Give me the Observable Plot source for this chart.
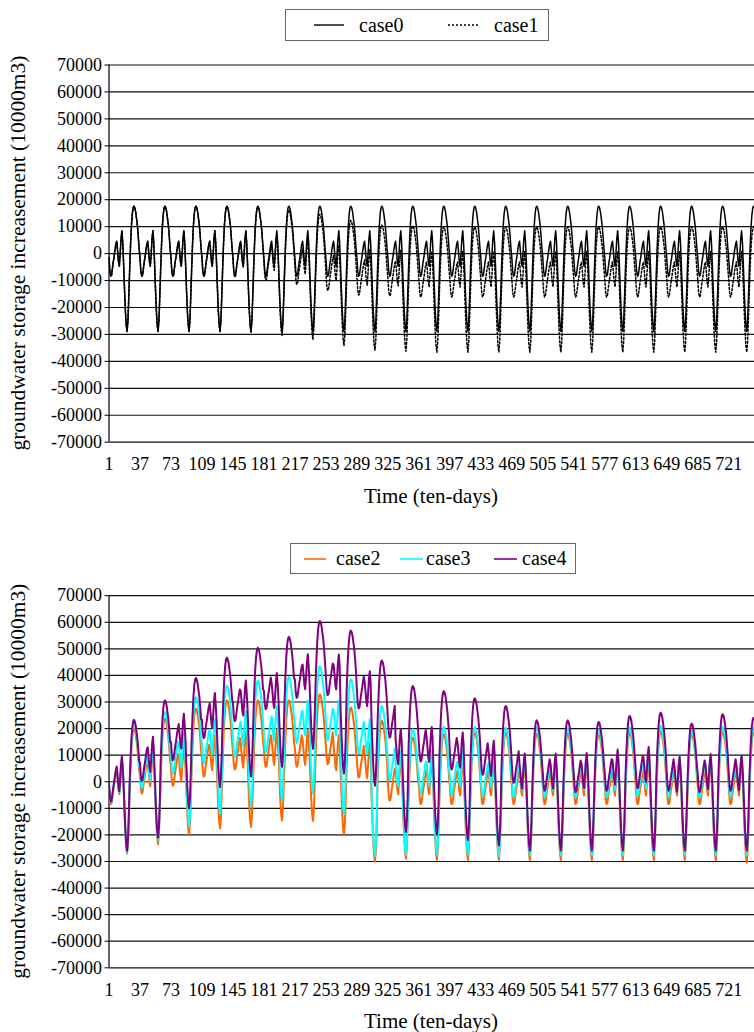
<!DOCTYPE html>
<html><head><meta charset="utf-8">
<script src="https://cdn.jsdelivr.net/npm/d3@7"></script>
<script src="https://cdn.jsdelivr.net/npm/@observablehq/plot@0.6"></script>
<style>
body{margin:0;background:#fff;}
#wrap{position:relative;width:754px;height:1032px;overflow:hidden;font-family:"Liberation Serif","Times New Roman",serif;color:#000;}
.chart{position:absolute;left:0;}
.legend{position:absolute;border:1px solid #666;background:#fff;box-sizing:border-box;font-size:20px;}
.legend span{position:absolute;top:0;white-space:nowrap;}
.legend svg{position:absolute;}
</style>
</head><body>
<div id="wrap"></div>
<script>
// ---------------- data ----------------
const xTicks = [1,37,73,109,145,181,217,253,289,325,361,397,433,469,505,541,577,613,649,685,721];
const yTicks = [-70000,-60000,-50000,-40000,-30000,-20000,-10000,0,10000,20000,30000,40000,50000,60000,70000];
// annual (36 ten-day) storage change pattern of the base case
const annualProfile = [-1500,-6500,-8400,-8000,-5500,-3000,-1000,1500,3500,4600,1000,-3000,-4700,0,5500,8500,4000,-4000,-13000,-21000,-26500,-28900,-25000,-16000,-6000,3000,10000,14500,17000,17600,17000,15500,13000,10500,6500,2000];
// per-year shifts (21 years)
const case0Shift = [0,0,0,0,0,0,0,0,0,0,0,0,0,0,0,0,0,0,0,0,0];
const case1Shift = [0,0,0,0,-300,-1500,-3000,-5300,-7000,-7300,-7700,-7700,-7700,-7700,-7700,-7700,-7700,-7700,-7700,-7700,-7700];
// case2 (orange): shifts for early-season low, mid-season, trough, peak
const case2Low   = [0,4000,6900,10300,13000,14000,14000,15000,10000,1300,0,0,0,0,0,0,0,0,0,0,0];
const case2Mid   = [0,3000,5000,9000,10000,11000,11000,9000,6000,0,0,-500,-500,-500,-500,-500,-500,-500,-500,-500,-500];
const case2Trough= [1900,5400,8900,11400,11900,14400,14200,8900,-1100,0,-500,-500,-500,-500,-500,-500,-500,-500,-500,-500,-1500];
const case2Peak  = [2400,6150,9900,13000,13000,13000,15300,10300,5400,-1000,300,900,900,500,500,300,900,1300,300,1150,900];
// case3 (cyan)
const case3Low   = [600,6000,11500,15300,17800,19500,23000,24000,19000,9000,4000,3500,3000,2500,2500,2500,2500,3000,2500,2500,2500];
const case3Mid   = [700,5000,10000,15000,18000,20000,22000,22000,15000,3000,3000,3000,2500,1500,1500,1500,1500,2000,1000,1500,1500];
const case3Trough= [2400,6900,11900,16900,19500,21900,24400,16900,1000,1500,1500,1500,1000,1200,1200,1200,1200,1200,1200,1200,1200];
const case3Peak  = [4300,8650,14300,18650,20500,21800,25900,20900,10900,2150,3000,3000,2800,2800,2500,2150,2800,3400,1500,3000,2900];
// case4 (purple)
const case4Low   = [900,8700,16500,24800,31200,35700,40000,41000,36000,25000,16000,13000,11000,8000,5000,4500,5000,6000,5000,4500,5000];
const case4Mid   = [1100,8400,17100,24900,29600,32400,39500,39400,33100,11300,12100,10000,6900,2100,2100,2300,3600,4600,900,1900,1500];
const case4Trough= [2900,7900,18900,26900,30900,34500,41300,32000,27400,10000,9000,7000,5000,3000,3000,3000,3000,3000,3000,3000,3000];
const case4Peak  = [5700,13000,21400,29100,32800,36900,42900,39300,28000,18400,16500,13800,10900,5500,5500,4900,7150,8400,4300,7800,6500];

function compose(name, A, B, T, P) {
  const out = [];
  for (let k = 0; k < A.length; k++) {
    annualProfile.forEach((v, p) => {
      const o = p < 9 ? A[k] : p < 17 ? B[k] : p < 24 ? T[k] : P[k];
      out.push({t: k * 36 + p + 1, v: v + o, series: name});
    });
  }
  return out;
}
const d0 = compose("case0", case0Shift, case0Shift, case0Shift, case0Shift);
const d1 = compose("case1", case1Shift, case1Shift, case1Shift, case1Shift);
const d2 = compose("case2", case2Low, case2Mid, case2Trough, case2Peak);
const d3s = compose("case3", case3Low, case3Mid, case3Trough, case3Peak);
const d4 = compose("case4", case4Low, case4Mid, case4Trough, case4Peak);

const FONT = '"Liberation Serif","Times New Roman",serif';
const wrap = document.getElementById("wrap");

function makeChart(top, height, mTop, mBottom, lineMarks) {
  const chart = Plot.plot({
    width: 754, height,
    marginLeft: 108.5, marginRight: 0, marginTop: mTop, marginBottom: mBottom,
    style: {fontFamily: FONT, fontSize: "18px", color: "#000", background: "transparent", overflow: "visible"},
    x: {domain: [1, 751]},
    y: {domain: [-70000, 70000]},
    marks: [
      Plot.ruleY(yTicks, {stroke: "#111", strokeWidth: 1.2}),
      Plot.ruleX([1], {stroke: "#000", strokeWidth: 1.2}),
      ...lineMarks,
      Plot.axisX(xTicks, {tickSize: 0, tickPadding: 15, tickFormat: d => String(d), label: null}),
      Plot.axisY(yTicks, {tickSize: 4, tickPadding: 3, tickFormat: d => String(d), label: null, stroke: "#000"})
    ]
  });
  chart.classList.add("chart");
  chart.style.top = top + "px";
  const svg = d3.select(chart);
  const plotBottom = height - mBottom;
  const yc = (mTop + plotBottom) / 2;
  svg.append("text")
    .attr("transform", `translate(18,${yc}) rotate(-90)`)
    .attr("text-anchor", "middle").attr("dy", "0.35em")
    .attr("font-size", 21).attr("font-family", FONT).attr("fill", "#000")
    .attr("textLength", 395).attr("lengthAdjust", "spacingAndGlyphs")
    .text("groundwater storage increasement (10000m3)");
  svg.append("text")
    .attr("x", 431).attr("y", plotBottom + 61)
    .attr("text-anchor", "middle")
    .attr("font-size", 21).attr("font-family", FONT).attr("fill", "#000")
    .text("Time (ten-days)");
  wrap.appendChild(chart);
}

makeChart(0, 512, 64.5, 512 - 441.7, [
  Plot.line(d1, {x: "t", y: "v", stroke: "#000", strokeWidth: 1.5, strokeDasharray: "2,2", clip: true}),
  Plot.line(d0, {x: "t", y: "v", stroke: "#000", strokeWidth: 1.5, clip: true})
]);
makeChart(520, 512, 75.2, 1032 - 967.3, [
  Plot.line(d2, {x: "t", y: "v", stroke: "#FF6600", strokeWidth: 2, clip: true}),
  Plot.line(d3s, {x: "t", y: "v", stroke: "#00FFFF", strokeWidth: 2, clip: true}),
  Plot.line(d4, {x: "t", y: "v", stroke: "#800080", strokeWidth: 2, clip: true})
]);

// ---------------- legends ----------------
function legend(left, top, width, height, items) {
  const div = document.createElement("div");
  div.className = "legend";
  Object.assign(div.style, {left: left + "px", top: top + "px", width: width + "px", height: height + "px"});
  items.forEach(it => {
    const s = document.createElementNS("http://www.w3.org/2000/svg", "svg");
    s.setAttribute("width", it.len); s.setAttribute("height", 6);
    s.style.left = it.lx + "px"; s.style.top = (height / 2 - 4) + "px";
    const l = document.createElementNS("http://www.w3.org/2000/svg", "line");
    l.setAttribute("x1", 0); l.setAttribute("x2", it.len); l.setAttribute("y1", 3); l.setAttribute("y2", 3);
    l.setAttribute("stroke", it.color); l.setAttribute("stroke-width", it.w);
    if (it.dash) l.setAttribute("stroke-dasharray", it.dash);
    s.appendChild(l); div.appendChild(s);
    const sp = document.createElement("span");
    sp.textContent = it.label; sp.style.left = it.tx + "px";
    sp.style.lineHeight = (height - 2) + "px";
    div.appendChild(sp);
  });
  wrap.appendChild(div);
}
legend(285, 9, 264, 32, [
  {label: "case0", color: "#000", w: 1.4, lx: 28, len: 30, tx: 73},
  {label: "case1", color: "#000", w: 1.6, dash: "2,2", lx: 162, len: 30, tx: 208}
]);
legend(290, 543, 286, 31, [
  {label: "case2", color: "#FF6600", w: 1.6, lx: 13, len: 22, tx: 45},
  {label: "case3", color: "#00FFFF", w: 1.6, lx: 109, len: 23, tx: 135},
  {label: "case4", color: "#800080", w: 1.6, lx: 203, len: 23, tx: 231}
]);
</script>
</body></html>
